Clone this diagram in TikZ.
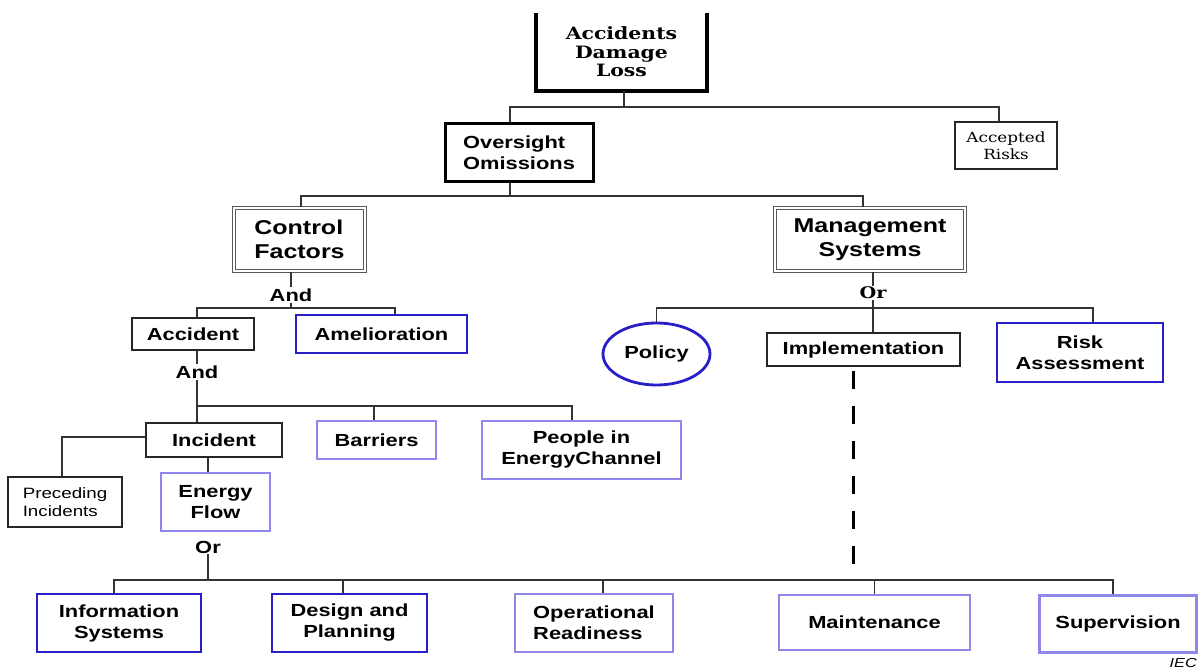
\documentclass[tikz,border=0pt]{standalone}
\usepackage{fontspec}
\usepackage{tikz}
\usetikzlibrary{shapes.geometric}
\newfontfamily\boxsans[FakeStretch=1.25]{Liberation Sans}
\newfontfamily\boxserif[FakeStretch=1.2]{DejaVu Serif}
\definecolor{dblue}{rgb}{0.16,0.12,0.78}
\definecolor{lblue}{rgb}{0.56,0.53,0.92}

\begin{document}
\begin{tikzpicture}[x=1pt,y=-1pt,
  wire/.style={draw=black!80,line width=1.4pt},
  box node/.style={rectangle,fill=white,inner sep=0pt,align=center,
    font=\boxsans\bfseries\fontsize{17.5}{21}\selectfont},
  plain node/.style={box node,draw=black!85,line width=1.6pt},
  heavy node/.style={box node,draw=black,line width=3pt},
  double node/.style={box node,draw=black!65,double,double distance=2pt,line width=1pt,
    font=\boxsans\bfseries\fontsize{20}{24}\selectfont},
  blue node/.style={box node,draw=dblue,line width=2.8pt},
  lav node/.style={box node,draw=lblue,line width=2.4pt},
  gate node/.style={inner sep=1pt,font=\boxsans\bfseries\fontsize{17.5}{21}\selectfont}]
  \useasboundingbox (0,0) rectangle (1202,671);

  % top levels
  \node[box node,minimum width=171pt,minimum height=78pt,
    font=\boxserif\bfseries\fontsize{17}{18.5}\selectfont] (loss) at (621.5,52) {Accidents\\Damage\\Loss};
  \draw[line width=3.5pt] (loss.north west) -- (loss.south west) -- (loss.south east) -- (loss.north east);
  \node[plain node,minimum width=102pt,minimum height=47pt,line width=1.4pt,
    font=\boxserif\fontsize{14}{17}\selectfont] (risks) at (1006,145.5) {Accepted\\Risks};
  \node[heavy node,minimum width=148pt,minimum height=58pt,align=left] (over) at (519,153) {Oversight\\Omissions};
  \node[double node,minimum width=131pt,minimum height=63pt,align=left] (control) at (299.5,239.5) {Control\\Factors};
  \node[double node,minimum width=190pt,minimum height=63pt] (mgmt) at (870,239.5) {Management\\Systems};
  \node[gate node] (and1) at (291,295) {And};
  \node[gate node,font=\boxserif\bfseries\fontsize{16}{18}\selectfont] (or1) at (873,293) {Or};

  % control factors side
  \node[plain node,minimum width=122pt,minimum height=32pt] (accident) at (193,334) {Accident};
  \node[blue node,minimum width=171pt,minimum height=38pt] (amel) at (381.5,334) {Amelioration};
  \node[gate node] (and2) [below of=accident,node distance=38pt,xshift=4pt] {And};
  \node[plain node,minimum width=136pt,minimum height=34pt] (incident) at (214,440) {Incident};
  \node[lav node,minimum width=119pt,minimum height=38pt] (barriers) at (376.5,440) {Barriers};
  \node[lav node,minimum width=199pt,minimum height=58pt] (people) at (581.5,450) {People in\\EnergyChannel};
  \node[plain node,minimum width=114pt,minimum height=50pt,line width=1.4pt,align=left,
    font=\boxsans\fontsize{15}{18}\selectfont] (preceding) at (65,502) {Preceding\\Incidents};
  \node[lav node,minimum width=109pt,minimum height=58pt] (eflow) [below of=incident,node distance=62pt,xshift=1.5pt] {Energy\\Flow};
  \node[gate node] (or2) [below of=eflow,node distance=45pt,xshift=-7.5pt] {Or};

  % management systems side
  \node[blue node,ellipse,minimum width=107pt,minimum height=62pt] (policy) at (656.5,354) {Policy};
  \node[plain node,minimum width=193pt,minimum height=33pt] (impl) at (863.5,349.5) {Implementation};
  \node[blue node,minimum width=166pt,minimum height=59pt] (risk) at (1080,352.5) {Risk\\Assessment};

  % bottom row
  \node[blue node,minimum width=164pt,minimum height=58pt] (info) at (119,623) {Information\\Systems};
  \node[blue node,minimum width=155pt,minimum height=58pt] (design) at (349.5,623) {Design and\\Planning};
  \node[lav node,minimum width=158pt,minimum height=58pt,align=left] (oper) at (594,623) {Operational\\Readiness};
  \node[lav node,minimum width=191pt,minimum height=55pt] (maint) at (874.5,622.5) {Maintenance};
  \node[lav node,minimum width=157pt,minimum height=57pt] (superv) at (1118,624) {Supervision};
  \node[inner sep=0pt,anchor=east,font=\boxsans\itshape\fontsize{13}{15}\selectfont] (iec) at (1197,663) {IEC};

  \coordinate (j1) at (624,107);
  \coordinate (j2) at (510,196);
  \coordinate (j3) at (291,308);
  \coordinate (j4) at (873,308);
  \coordinate (j5) at (197,406);
  \coordinate (j6) at (208,580);
  \coordinate (dashend) at (853,564);

  \draw[wire] (loss.south -| j1) -- (j1);
  \draw[wire] (j1) -| ([xshift=-9pt]over.north);
  \draw[wire] (j1) -| ([xshift=-7pt]risks.north);
  \draw[wire] ([xshift=-9pt]over.south) -- (j2);
  \draw[wire] (j2) -| ([xshift=1.5pt]control.north);
  \draw[wire] (j2) -| ([xshift=-7pt]mgmt.north);
  \draw[wire] (control.south -| and1.north) -- (and1.north);
  \draw[wire] (and1.south) -- (j3);
  \draw[wire] (j3) -| ([xshift=4pt]accident.north);
  \draw[wire] (j3) -| ([xshift=13.5pt]amel.north);
  \draw[wire] (mgmt.south -| or1.north) -- (or1.north);
  \draw[wire] (or1.south) -- (j4);
  \draw[wire] (j4) -| (policy.north);
  \draw[wire] (j4) -| ([xshift=13pt]risk.north);
  \draw[wire] (j4) -- ([xshift=9.5pt]impl.north);
  \draw[wire] (accident.south -| and2.north) -- (and2.north);
  \draw[wire] (and2.south) -- (j5);
  \draw[wire] (j5) -- ([xshift=-17pt]incident.north);
  \draw[wire] (j5) -| ([xshift=-2.5pt]barriers.north);
  \draw[wire] (j5) -| ([xshift=-9.5pt]people.north);
  \draw[wire] ([yshift=3pt]incident.west) -| ([xshift=-3pt]preceding.north);
  \draw[wire] ([xshift=-6pt]incident.south) -- ([xshift=-7.5pt]eflow.north);
  \draw[wire] (or2.south) -- (j6);
  \draw[wire] (j6) -| ([xshift=-5pt]info.north);
  \draw[wire] (j6) -| ([xshift=-6.5pt]design.north);
  \draw[wire] (j6) -| ([xshift=9pt]oper.north);
  \draw[wire] (j6) -| (maint.north);
  \draw[wire] (j6) -| ([xshift=-5pt]superv.north);
  \draw[line width=3pt,dash pattern=on 18pt off 17pt,shorten <=4pt] ([xshift=-10.5pt]impl.south) -- (dashend);
\end{tikzpicture}
\end{document}
